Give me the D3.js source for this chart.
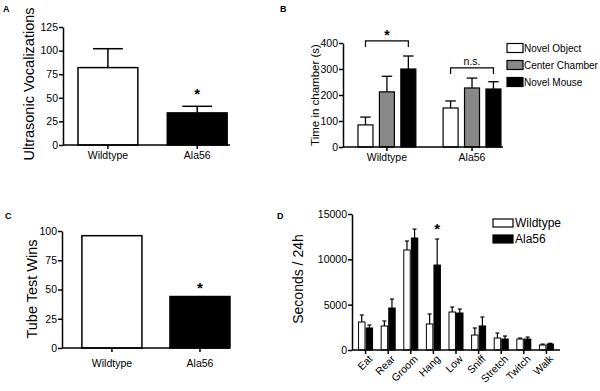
<!DOCTYPE html>
<html>
<head>
<meta charset="utf-8">
<script src="https://cdnjs.cloudflare.com/ajax/libs/d3/7.8.5/d3.min.js"></script>
<style>
  body { margin: 0; background: #fff; }
  svg { display: block; font-family: "Liberation Sans", Arial, sans-serif; }
  .axis path, .axis line { stroke: #000; stroke-width: 1.5; }
  .axis text { fill: #000; font-size: 10.5px; }
</style>
</head>
<body>
<svg id="fig" width="600" height="391"></svg>
<script>
// ---- data ----
var genotypes = ["Wildtype", "Ala56"];

// A: ultrasonic vocalizations (mean, sem)
var usvMean = [82, 34];
var usvSem = [20, 7];
var usvTicks = [0, 25, 50, 75, 100, 125];

// B: three chamber test
var chambers = ["Novel Object", "Center Chamber", "Novel Mouse"];
var chamberColors = ["#fff", "#888", "#000"];
var wtChamber = [85, 212, 300];
var wtChamberSem = [30, 60, 50];
var alaChamber = [150, 227, 223];
var alaChamberSem = [27, 38, 28];
var chamberTicks = [0, 100, 200, 300, 400];
var bracketLevels = [408, 304];
var bracketMarks = ["*", "n.s."];

// C: tube test
var tubeWins = [96, 44];
var tubeTicks = [0, 25, 50, 75, 100];

// D: home cage behaviour
var behaviors = ["Eat", "Rear", "Groom", "Hang", "Low", "Sniff", "Stretch", "Twitch", "Walk"];
var wtSeconds = [3090, 2650, 11030, 2870, 4190, 1650, 1320, 1210, 550];
var wtSecondsSem = [770, 550, 990, 1100, 550, 780, 550, 110, 100];
var alaSeconds = [2430, 4630, 12350, 9370, 4080, 2650, 1210, 1210, 660];
var alaSecondsSem = [330, 990, 990, 2870, 440, 990, 330, 220, 80];
var secondsTicks = [0, 5000, 10000, 15000];

var svg = d3.select("#fig");

function panelLabel(txt, x, y) {
  svg.append("text").attr("x", x).attr("y", y)
    .attr("font-size", 9).attr("font-weight", "bold").text(txt);
}

function yLabel(txt, x, y, size) {
  svg.append("text")
    .attr("transform", "translate(" + x + "," + y + ") rotate(-90)")
    .attr("text-anchor", "middle")
    .attr("dy", "0.35em")
    .attr("font-size", size)
    .text(txt);
}

function axes(x, y, ticks, xEnd, fmt) {
  var x0 = x.range()[0];
  var y0 = y.range()[0];
  var ya = svg.append("g").attr("class", "axis")
    .attr("transform", "translate(" + x0 + ",0)")
    .call(d3.axisLeft(y).tickValues(ticks).tickFormat(fmt || d3.format("d"))
      .tickSize(4).tickPadding(1).tickSizeOuter(0));
  var xa = svg.append("g").attr("class", "axis")
    .attr("transform", "translate(0," + y0 + ")")
    .call(d3.axisBottom(x).tickSize(4).tickSizeOuter(0).tickPadding(3));
  xa.select(".domain").attr("d", "M" + x0 + ",0H" + xEnd);
  xa.selectAll("text").attr("font-size", 11);
  return { x: xa, y: ya };
}

// error bar upward with cap
function errBar(g, cx, yTop, yErr, cap, sw) {
  g.append("line").attr("x1", cx).attr("x2", cx).attr("y1", yTop).attr("y2", yErr)
    .attr("stroke", "#000").attr("stroke-width", sw);
  g.append("line").attr("x1", cx - cap / 2).attr("x2", cx + cap / 2).attr("y1", yErr).attr("y2", yErr)
    .attr("stroke", "#000").attr("stroke-width", sw);
}

// ---------- A ----------
(function() {
  var x = d3.scaleBand().domain(genotypes).range([63, 230]).paddingInner(0.33).paddingOuter(0.1).align(0.84);
  var y = d3.scaleLinear().domain([0, 125]).range([145, 27]);
  var g = svg.append("g");
  genotypes.forEach(function(d, i) {
    errBar(g, x(d) + x.bandwidth() / 2, y(usvMean[i]), y(usvMean[i] + usvSem[i]), x.bandwidth() / 2, 1.5);
  });
  g.selectAll("rect").data(genotypes).enter().append("rect")
    .attr("x", d => x(d)).attr("width", x.bandwidth())
    .attr("y", (d, i) => y(usvMean[i])).attr("height", (d, i) => y(0) - y(usvMean[i]))
    .attr("fill", (d, i) => i === 0 ? "#fff" : "#000")
    .attr("stroke", "#000").attr("stroke-width", 1.5);
  axes(x, y, usvTicks, 230);
  g.append("text").attr("x", x("Ala56") + x.bandwidth() / 2).attr("y", y(usvMean[1] + usvSem[1]) - 7)
    .attr("text-anchor", "middle").attr("font-size", 15).attr("font-weight", "bold").text("*");
  yLabel("Ultrasonic Vocalizations", 29, 84, 14.5);
  panelLabel("A", 3, 12);
})();

// ---------- B ----------
(function() {
  var x = d3.scaleBand().domain(genotypes).range([343, 503]).paddingInner(0.32).paddingOuter(0.1).align(0.88);
  var xs = d3.scaleBand().domain(chambers).range([0, x.bandwidth()]).paddingInner(0.3);
  var y = d3.scaleLinear().domain([0, 400]).range([147, 43]);
  var means = [wtChamber, alaChamber], sems = [wtChamberSem, alaChamberSem];
  var g = svg.append("g");
  genotypes.forEach(function(gt, gi) {
    chambers.forEach(function(c, ci) {
      var bx = x(gt) + xs(c);
      errBar(g, bx + xs.bandwidth() / 2, y(means[gi][ci]), y(means[gi][ci] + sems[gi][ci]), xs.bandwidth() * 0.7, 1.3);
      g.append("rect").attr("x", bx).attr("width", xs.bandwidth())
        .attr("y", y(means[gi][ci])).attr("height", y(0) - y(means[gi][ci]))
        .attr("fill", chamberColors[ci]).attr("stroke", "#000").attr("stroke-width", 1.2);
    });
    // bracket between novel object and novel mouse
    var bx1 = x(gt) + xs(chambers[0]) + xs.bandwidth() / 2,
      bx2 = x(gt) + xs(chambers[2]) + xs.bandwidth() / 2,
      by = y(bracketLevels[gi]);
    g.append("path").attr("d", "M" + bx1 + "," + (by + 6) + "V" + by + "H" + bx2 + "V" + (by + 6))
      .attr("fill", "none").attr("stroke", "#000").attr("stroke-width", 1.2);
    g.append("text").attr("x", (bx1 + bx2) / 2).attr("y", gi === 0 ? by - 1 : by - 3)
      .attr("text-anchor", "middle")
      .attr("font-size", gi === 0 ? 14 : 10.5).attr("font-weight", gi === 0 ? "bold" : "normal")
      .text(bracketMarks[gi]);
  });
  axes(x, y, chamberTicks, 503);
  yLabel("Time in chamber (s)", 315, 95, 11.5);
  var lg = svg.append("g").attr("transform", "translate(507,0)");
  chambers.forEach(function(c, i) {
    var cy = 48 + i * 17;
    lg.append("rect").attr("x", 0).attr("y", cy - 4.5).attr("width", 16).attr("height", 9)
      .attr("fill", chamberColors[i]).attr("stroke", "#000").attr("stroke-width", 1.2);
    lg.append("text").attr("x", 17).attr("y", cy).attr("dy", "0.35em").attr("font-size", 10).text(c);
  });
  panelLabel("B", 280, 12);
})();

// ---------- C ----------
(function() {
  var x = d3.scaleBand().domain(genotypes).range([62, 230]).paddingInner(0.318).paddingOuter(0.113).align(1);
  var y = d3.scaleLinear().domain([0, 100]).range([348, 231]);
  var g = svg.append("g");
  g.selectAll("rect").data(genotypes).enter().append("rect")
    .attr("x", d => x(d)).attr("width", x.bandwidth())
    .attr("y", (d, i) => y(tubeWins[i])).attr("height", (d, i) => y(0) - y(tubeWins[i]))
    .attr("fill", (d, i) => i === 0 ? "#fff" : "#000")
    .attr("stroke", "#000").attr("stroke-width", 1.5);
  var ax = axes(x, y, tubeTicks, 230);
  ax.x.selectAll("text").attr("dy", "1.1em");
  g.append("text").attr("x", x("Ala56") + x.bandwidth() / 2).attr("y", y(tubeWins[1]) - 4)
    .attr("text-anchor", "middle").attr("font-size", 15).attr("font-weight", "bold").text("*");
  yLabel("Tube Test Wins", 32, 289, 14.5);
  panelLabel("C", 5, 219);
})();

// ---------- D ----------
(function() {
  var x = d3.scaleBand().domain(behaviors).range([352, 560]).paddingInner(0.38).paddingOuter(0.29);
  var xs = d3.scaleBand().domain(genotypes).range([0, x.bandwidth()]).paddingInner(0.15);
  var y = d3.scaleLinear().domain([0, 15000]).range([350, 214]);
  var means = [wtSeconds, alaSeconds], sems = [wtSecondsSem, alaSecondsSem];
  var g = svg.append("g");
  behaviors.forEach(function(b, bi) {
    genotypes.forEach(function(gt, gi) {
      var bx = x(b) + xs(gt);
      errBar(g, bx + xs.bandwidth() / 2, y(means[gi][bi]), y(means[gi][bi] + sems[gi][bi]), 4, 1.2);
      g.append("rect").attr("x", bx).attr("width", xs.bandwidth())
        .attr("y", y(means[gi][bi])).attr("height", y(0) - y(means[gi][bi]))
        .attr("fill", gi === 0 ? "#fff" : "#000").attr("stroke", "#000").attr("stroke-width", 1);
    });
  });
  var ax = axes(x, y, secondsTicks, 560);
  ax.y.selectAll("text").attr("font-size", 11.5);
  ax.x.selectAll("text")
    .attr("font-size", 12)
    .attr("text-anchor", "end")
    .attr("x", 0).attr("y", 0).attr("dy", "0.35em")
    .attr("transform", "translate(5,7) rotate(-45)");
  g.append("text").attr("x", x("Hang") + xs("Ala56") + xs.bandwidth() / 2).attr("y", y(alaSeconds[3] + alaSecondsSem[3]) - 5)
    .attr("text-anchor", "middle").attr("font-size", 15).attr("font-weight", "bold").text("*");
  yLabel("Seconds / 24h", 298, 279, 14);
  var lg = svg.append("g").attr("transform", "translate(493,0)");
  genotypes.forEach(function(gt, i) {
    var cy = 223 + i * 16;
    lg.append("rect").attr("x", 0).attr("y", cy - 4).attr("width", 20).attr("height", 8)
      .attr("fill", i === 0 ? "#fff" : "#000").attr("stroke", "#000").attr("stroke-width", 1.2);
    lg.append("text").attr("x", 22).attr("y", cy).attr("dy", "0.35em").attr("font-size", 12).text(gt);
  });
  panelLabel("D", 277, 219);
})();
</script>
</body>
</html>
